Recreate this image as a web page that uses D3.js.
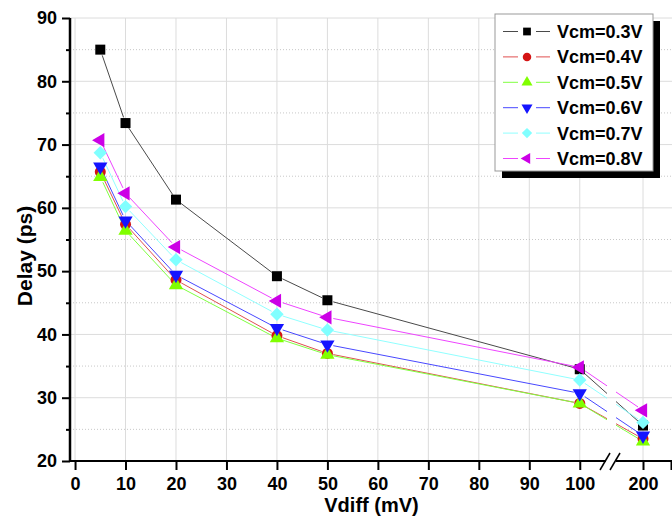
<!DOCTYPE html>
<html>
<head>
<meta charset="utf-8">
<script src="https://cdn.jsdelivr.net/npm/d3@7"></script>
<style>
  body { margin: 0; background: #fff; }
  svg { display: block; }
</style>
</head>
<body>
<div id="chart"></div>
<script>
// Delay vs Vdiff, one series per common-mode voltage
var VDIFF = [5, 10, 20, 40, 50, 100, 200];
var SERIES_NAMES = ['Vcm=0.3V', 'Vcm=0.4V', 'Vcm=0.5V', 'Vcm=0.6V', 'Vcm=0.7V', 'Vcm=0.8V'];
var DELAY_03 = [85.0, 73.4, 61.3, 49.2, 45.4, 34.5, 25.6];
var DELAY_04 = [65.7, 57.4, 48.6, 39.8, 37.0, 29.1, 23.5];
var DELAY_05 = [64.9, 56.4, 47.8, 39.4, 36.8, 29.1, 23.1];
var DELAY_06 = [66.5, 58.0, 49.4, 41.0, 38.4, 30.7, 24.0];
var DELAY_07 = [68.7, 60.2, 51.8, 43.2, 40.7, 32.8, 26.1];
var DELAY_08 = [70.7, 62.3, 53.8, 45.3, 42.7, 34.8, 28.0];
var X_TICKS_LEFT = [0, 10, 20, 30, 40, 50, 60, 70, 80, 90, 100];
var X_TICKS_RIGHT = [200, 210];
var Y_TICKS = [20, 30, 40, 50, 60, 70, 80, 90];
var Y_MINOR = [25, 35, 45, 55, 65, 75, 85];

(function () {
  'use strict';

  var WIDTH = 672, HEIGHT = 518;
  var FONT = 'Arial, "Liberation Sans", Helvetica, sans-serif';

  var STYLES = [
    { shape: d3.symbolSquare,   rot: 0,   size: 100, fill: '#000000', line: '#4a4a4a' },
    { shape: d3.symbolCircle,   rot: 0,   size: 95,  fill: '#d41414', line: '#e05050' },
    { shape: d3.symbolTriangle, rot: 0,   size: 88,  fill: '#80ff00', line: '#80ff40' },
    { shape: d3.symbolTriangle, rot: 180, size: 88,  fill: '#1414ff', line: '#4848ff' },
    { shape: d3.symbolSquare,   rot: 45,  size: 90,  fill: '#80ffff', line: '#90ffff' },
    { shape: d3.symbolTriangle, rot: -90, size: 88,  fill: '#cc00e6', line: '#ee44ff' }
  ];
  var SERIES = [DELAY_03, DELAY_04, DELAY_05, DELAY_06, DELAY_07, DELAY_08];

  var xLeft = d3.scaleLinear().domain([-1, 105]).range([70, 605]);
  var xRight = d3.scaleLinear().domain([190, 210]).range([615, 671]);
  var y = d3.scaleLinear().domain([20, 90]).range([461, 18]);

  function x(v) { return v <= 105 ? xLeft(v) : xRight(v); }

  var svg = d3.select('#chart').append('svg')
    .attr('width', WIDTH).attr('height', HEIGHT)
    .style('font-family', FONT);

  var defs = svg.append('defs');
  var clip = defs.append('clipPath').attr('id', 'break-clip');
  clip.append('rect').attr('x', 0).attr('y', 0)
    .attr('width', xLeft(105) + 2).attr('height', HEIGHT);
  clip.append('rect').attr('x', xRight(190) + 1).attr('y', 0)
    .attr('width', WIDTH).attr('height', HEIGHT);

  // grid
  var grid = svg.append('g');
  grid.selectAll('.vg').data(X_TICKS_LEFT.concat([200])).enter().append('line')
    .attr('x1', x).attr('x2', x)
    .attr('y1', y(20)).attr('y2', y(90))
    .attr('stroke', '#dcdcdc').attr('stroke-width', 1);
  grid.selectAll('.hg').data(Y_TICKS.slice(1)).enter().append('line')
    .attr('x1', xLeft(-1)).attr('x2', WIDTH)
    .attr('y1', y).attr('y2', y)
    .attr('stroke', '#dcdcdc').attr('stroke-width', 1);
  grid.selectAll('.hm').data(Y_MINOR).enter().append('line')
    .attr('x1', xLeft(-1)).attr('x2', WIDTH)
    .attr('y1', y).attr('y2', y)
    .attr('stroke', '#c8c8c8').attr('stroke-width', 1)
    .attr('stroke-dasharray', '1,2');

  // connecting lines, shortened near markers and cut at the axis break
  var lines = svg.append('g').attr('clip-path', 'url(#break-clip)');
  var GAP = 6;
  SERIES.forEach(function (vals, s) {
    var pts = VDIFF.map(function (v, i) { return [x(v), y(vals[i])]; });
    for (var i = 0; i < pts.length - 1; i++) {
      var p1 = pts[i], p2 = pts[i + 1];
      var dx = p2[0] - p1[0], dy = p2[1] - p1[1];
      var len = Math.sqrt(dx * dx + dy * dy);
      var ux = dx / len, uy = dy / len;
      lines.append('line')
        .attr('x1', p1[0] + ux * GAP).attr('y1', p1[1] + uy * GAP)
        .attr('x2', p2[0] - ux * GAP).attr('y2', p2[1] - uy * GAP)
        .attr('stroke', STYLES[s].line).attr('stroke-width', 1);
    }
  });

  // markers
  var marks = svg.append('g');
  SERIES.forEach(function (vals, s) {
    var st = STYLES[s];
    var sym = d3.symbol().type(st.shape).size(st.size);
    marks.selectAll('.m' + s).data(VDIFF).enter().append('path')
      .attr('d', sym)
      .attr('transform', function (v, i) {
        return 'translate(' + x(v) + ',' + y(vals[i]) + ') rotate(' + st.rot + ')';
      })
      .attr('fill', st.fill);
  });

  // axes
  function styleAxis(g) {
    g.select('.domain').remove();
    g.selectAll('.tick line').attr('stroke', '#000').attr('stroke-width', 2);
    g.selectAll('.tick text')
      .attr('fill', '#000')
      .style('font-family', FONT)
      .style('font-size', '18px')
      .style('font-weight', 'bold');
  }

  svg.append('g').attr('transform', 'translate(0,' + y(20) + ')')
    .call(d3.axisBottom(xLeft).tickValues(X_TICKS_LEFT).tickSize(9).tickPadding(7))
    .call(styleAxis);
  svg.append('g').attr('transform', 'translate(0,' + y(20) + ')')
    .call(d3.axisBottom(xRight).tickValues(X_TICKS_RIGHT).tickSize(9).tickPadding(7)
      .tickFormat(function (d) { return d === 200 ? '200' : ''; }))
    .call(styleAxis);

  svg.append('g').attr('transform', 'translate(' + xLeft(-1) + ',0)')
    .call(d3.axisLeft(y).tickValues(Y_TICKS).tickSize(8).tickPadding(5))
    .call(styleAxis);
  svg.append('g').attr('transform', 'translate(' + xLeft(-1) + ',0)')
    .call(d3.axisLeft(y).tickValues(Y_MINOR).tickSize(4).tickFormat(''))
    .call(styleAxis);

  // axis lines
  svg.append('line')
    .attr('x1', xLeft(-1)).attr('x2', xLeft(-1))
    .attr('y1', y(90)).attr('y2', y(20) + 1)
    .attr('stroke', '#000').attr('stroke-width', 2.5);
  svg.append('line')
    .attr('x1', xLeft(-1) - 1).attr('x2', xLeft(105) + 1)
    .attr('y1', y(20)).attr('y2', y(20))
    .attr('stroke', '#000').attr('stroke-width', 2);
  svg.append('line')
    .attr('x1', xRight(190) + 1).attr('x2', WIDTH)
    .attr('y1', y(20)).attr('y2', y(20))
    .attr('stroke', '#000').attr('stroke-width', 2);

  // break marks
  var bx = (xLeft(105) + xRight(190)) / 2;
  [-5, 5].forEach(function (off) {
    svg.append('line')
      .attr('x1', bx + off - 5).attr('y1', y(20) + 9)
      .attr('x2', bx + off + 5).attr('y2', y(20) - 8)
      .attr('stroke', '#000').attr('stroke-width', 1.5);
  });

  // axis titles
  svg.append('text')
    .attr('x', 371.5).attr('y', 512)
    .attr('text-anchor', 'middle')
    .style('font-size', '20px').style('font-weight', 'bold')
    .text('Vdiff (mV)');
  svg.append('text')
    .attr('transform', 'translate(32,256) rotate(-90)')
    .attr('text-anchor', 'middle')
    .style('font-size', '21px').style('font-weight', 'bold')
    .text('Delay (ps)');

  // legend
  var LX = 495, LY = 14, LW = 158, LH = 157;
  var legend = svg.append('g');
  legend.append('rect')
    .attr('x', LX + 7).attr('y', LY + 7).attr('width', LW).attr('height', LH)
    .attr('fill', '#000');
  legend.append('rect')
    .attr('x', LX).attr('y', LY).attr('width', LW).attr('height', LH)
    .attr('fill', '#fff').attr('stroke', '#999').attr('stroke-width', 1);

  SERIES_NAMES.forEach(function (name, s) {
    var st = STYLES[s];
    var cy = LY + 17.5 + s * 25.4;
    var row = legend.append('g');
    row.append('line').attr('x1', LX + 8).attr('x2', LX + 23)
      .attr('y1', cy).attr('y2', cy)
      .attr('stroke', st.line).attr('stroke-width', 1);
    row.append('line').attr('x1', LX + 41).attr('x2', LX + 55)
      .attr('y1', cy).attr('y2', cy)
      .attr('stroke', st.line).attr('stroke-width', 1);
    row.append('path')
      .attr('d', d3.symbol().type(st.shape).size(st.size * 0.6))
      .attr('transform', 'translate(' + (LX + 32) + ',' + cy + ') rotate(' + st.rot + ')')
      .attr('fill', st.fill);
    row.append('text')
      .attr('x', LX + 62).attr('y', cy + 6.5)
      .style('font-size', '18px').style('font-weight', 'bold')
      .text(name);
  });
})();
</script>
</body>
</html>
